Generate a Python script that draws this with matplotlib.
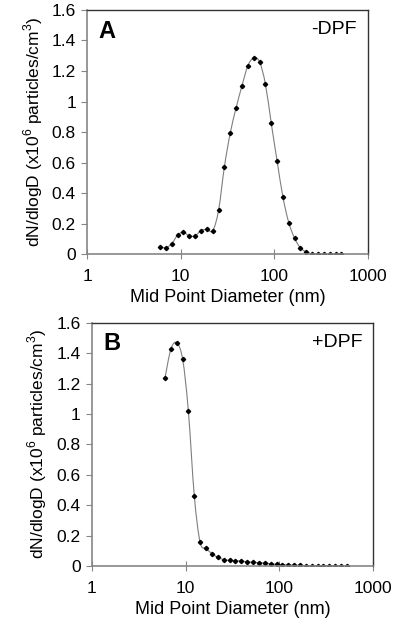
import numpy as np
import matplotlib
matplotlib.use('Agg')
import matplotlib.pyplot as plt
from matplotlib.path import Path
from matplotlib.patches import PathPatch

plt.rcParams['font.family'] = ['Liberation Sans', 'DejaVu Sans']
plt.rcParams['mathtext.fontset'] = 'custom'
plt.rcParams['mathtext.rm'] = 'Liberation Sans'

# SMPS channel mid point diameters (nm)
diam = [6.04, 6.98, 8.06, 9.31, 10.7, 12.4, 14.3, 16.5, 19.1, 22.1, 25.5, 29.4,
        34.0, 39.2, 45.3, 52.3, 60.4, 69.8, 80.6, 93.1, 107.5, 124.1, 143.3,
        165.5, 191.1, 220.7, 254.8, 294.3, 339.8, 392.4, 453.2, 523.3]

# dN/dlogD (x10^6 particles/cm3)
no_dpf = [0.050, 0.043, 0.070, 0.126, 0.144, 0.120, 0.120, 0.155, 0.163, 0.155,
          0.290, 0.574, 0.796, 0.958, 1.104, 1.233, 1.286, 1.260, 1.115, 0.858,
          0.611, 0.375, 0.207, 0.105, 0.041, 0.015, 0.003, 0.001, 0.0, 0.0, 0.0, 0.0]
with_dpf = [1.238, 1.427, 1.468, 1.359, 1.021, 0.458, 0.155, 0.116, 0.081, 0.057,
            0.042, 0.037, 0.035, 0.033, 0.028, 0.024, 0.022, 0.020, 0.015, 0.011,
            0.009, 0.007, 0.005, 0.004, 0.003, 0.002, 0.002, 0.001, 0.001, 0.001,
            0.001, 0.0]

yticks = [0, 0.2, 0.4, 0.6, 0.8, 1, 1.2, 1.4, 1.6]
ytick_labels = ['0', '0.2', '0.4', '0.6', '0.8', '1', '1.2', '1.4', '1.6']
xticks = [1, 10, 100, 1000]
xtick_labels = ['1', '10', '100', '1000']


def smooth_path(x, y):
    # excel-like smoothed line: cubic bezier in (log x, y) space
    lx = np.log10(x)
    y = np.asarray(y, float)
    n = len(lx)
    verts = [(x[0], y[0])]
    codes = [Path.MOVETO]
    for i in range(n - 1):
        i0 = max(i - 1, 0)
        i3 = min(i + 2, n - 1)
        c1 = (lx[i] + (lx[i + 1] - lx[i0]) / 6, y[i] + (y[i + 1] - y[i0]) / 6)
        c2 = (lx[i + 1] - (lx[i3] - lx[i]) / 6, y[i + 1] - (y[i3] - y[i]) / 6)
        verts += [(10 ** c1[0], c1[1]), (10 ** c2[0], c2[1]), (x[i + 1], y[i + 1])]
        codes += [Path.CURVE4] * 3
    return Path(verts, codes)


def panel(ax, vals, letter, tag):
    ax.set_xscale('log')
    ax.add_patch(PathPatch(smooth_path(diam, vals), fill=False,
                           edgecolor='#7f7f7f', lw=0.8))
    ax.plot(diam, vals, ls='none', marker='D', ms=2.2, color='black')
    ax.set_xlim(1, 1000)
    ax.set_ylim(0, 1.6)
    ax.set_xticks(xticks)
    ax.set_xticklabels(xtick_labels)
    ax.minorticks_off()
    ax.set_yticks(yticks)
    ax.set_yticklabels(ytick_labels)
    ax.tick_params(axis='y', direction='out', length=4, color='#868686',
                   labelsize=12.5, pad=4)
    ax.tick_params(axis='x', direction='inout', length=7, color='#868686',
                   labelsize=12.5, pad=7)
    for s in ['left', 'bottom']:
        ax.spines[s].set_color('#868686')
        ax.spines[s].set_linewidth(1.2)
    for s in ['top', 'right']:
        ax.spines[s].set_color('#333333')
        ax.spines[s].set_linewidth(1.0)
    ax.set_xlabel('Mid Point Diameter (nm)', fontsize=13, labelpad=4)
    ax.set_ylabel('dN/dlogD (x10$^6$ particles/cm$^3$)', fontsize=12.5, labelpad=5)
    ax.text(0.04, 0.96, letter, transform=ax.transAxes, fontsize=17,
            fontweight='bold', va='top', ha='left')
    ax.text(0.96, 0.955, tag, transform=ax.transAxes, fontsize=14,
            va='top', ha='right')


fig = plt.figure(figsize=(4.07, 6.33), dpi=100)
ax1 = fig.add_axes([0.2138, 0.5983, 0.6897, 0.386])
ax2 = fig.add_axes([0.2253, 0.1058, 0.692, 0.3844])

panel(ax1, no_dpf, 'A', '-DPF')
panel(ax2, with_dpf, 'B', '+DPF')

fig.savefig('out.png', dpi=100)
